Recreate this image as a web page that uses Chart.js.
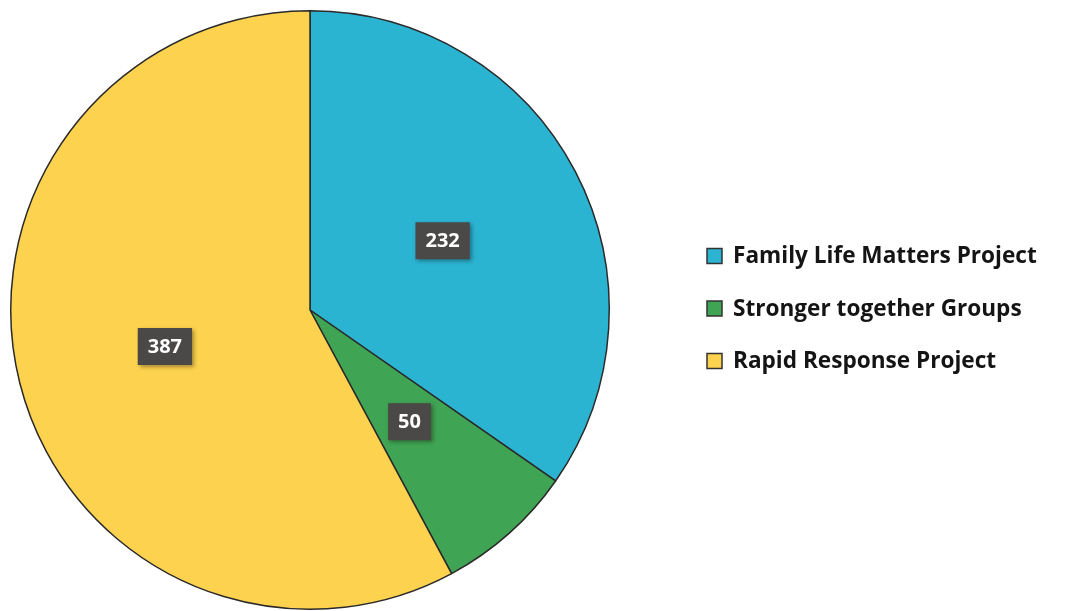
<!DOCTYPE html>
<html>
<head>
<meta charset="utf-8">
<script src="https://cdn.jsdelivr.net/npm/chart.js@4"></script>
<style>
  html, body { margin: 0; padding: 0; background: #fff; }
  #wrap { width: 1071px; height: 611px; position: relative; }
</style>
</head>
<body>
<div id="wrap"><canvas id="pie"></canvas></div>
<script>
// Data
const categories = ['Family Life Matters Project', 'Stronger together Groups', 'Rapid Response Project'];
const values = [232, 50, 387];
const sliceColors = ['#2bb4d2', '#3fa453', '#fdd24e'];

// value boxes on top of each slice
const valueBoxes = {
  id: 'valueBoxes',
  afterDatasetsDraw(chart) {
    const ctx = chart.ctx;
    const meta = chart.getDatasetMeta(0);
    ctx.save();
    ctx.font = 'bold 20px "Open Sans", sans-serif';
    ctx.textAlign = 'center';
    ctx.textBaseline = 'middle';
    meta.data.forEach(function (arc, i) {
      const p = arc.tooltipPosition();
      const txt = String(chart.data.datasets[0].data[i]);
      const w = ctx.measureText(txt).width + 20;
      const h = 37;
      ctx.shadowColor = 'rgba(0,0,0,0.35)';
      ctx.shadowBlur = 4;
      ctx.shadowOffsetX = 2;
      ctx.shadowOffsetY = 2;
      ctx.fillStyle = '#4b4948';
      ctx.fillRect(p.x - w / 2, p.y - h / 2, w, h);
      ctx.shadowColor = 'transparent';
      ctx.fillStyle = '#ffffff';
      ctx.fillText(txt, p.x, p.y + 1);
    });
    ctx.restore();
  }
};

// legend drawn to the right of the pie
const sideLegend = {
  id: 'sideLegend',
  afterDraw(chart) {
    const ctx = chart.ctx;
    const x0 = 707, y0 = 256, gap = 52.5;
    ctx.save();
    ctx.font = 'bold 22.6px "Open Sans", sans-serif';
    ctx.textBaseline = 'middle';
    chart.data.labels.forEach(function (lbl, i) {
      const y = y0 + i * gap;
      ctx.fillStyle = chart.data.datasets[0].backgroundColor[i];
      ctx.fillRect(x0, y - 7.5, 15, 15);
      ctx.strokeStyle = '#333';
      ctx.lineWidth = 1.5;
      ctx.strokeRect(x0, y - 7.5, 15, 15);
      ctx.fillStyle = '#141414';
      ctx.fillText(lbl, x0 + 26, y + 1);
    });
    ctx.restore();
  }
};

new Chart(document.getElementById('pie'), {
  type: 'pie',
  data: {
    labels: categories,
    datasets: [{
      data: values,
      backgroundColor: sliceColors,
      borderColor: '#2a2a2a',
      borderWidth: 1.5
    }]
  },
  options: {
    responsive: true,
    maintainAspectRatio: false,
    animation: false,
    layout: { padding: { left: 10, right: 461, top: 10, bottom: 1 } },
    plugins: {
      legend: { display: false },
      tooltip: { enabled: false }
    }
  },
  plugins: [valueBoxes, sideLegend]
});
</script>
</body>
</html>
